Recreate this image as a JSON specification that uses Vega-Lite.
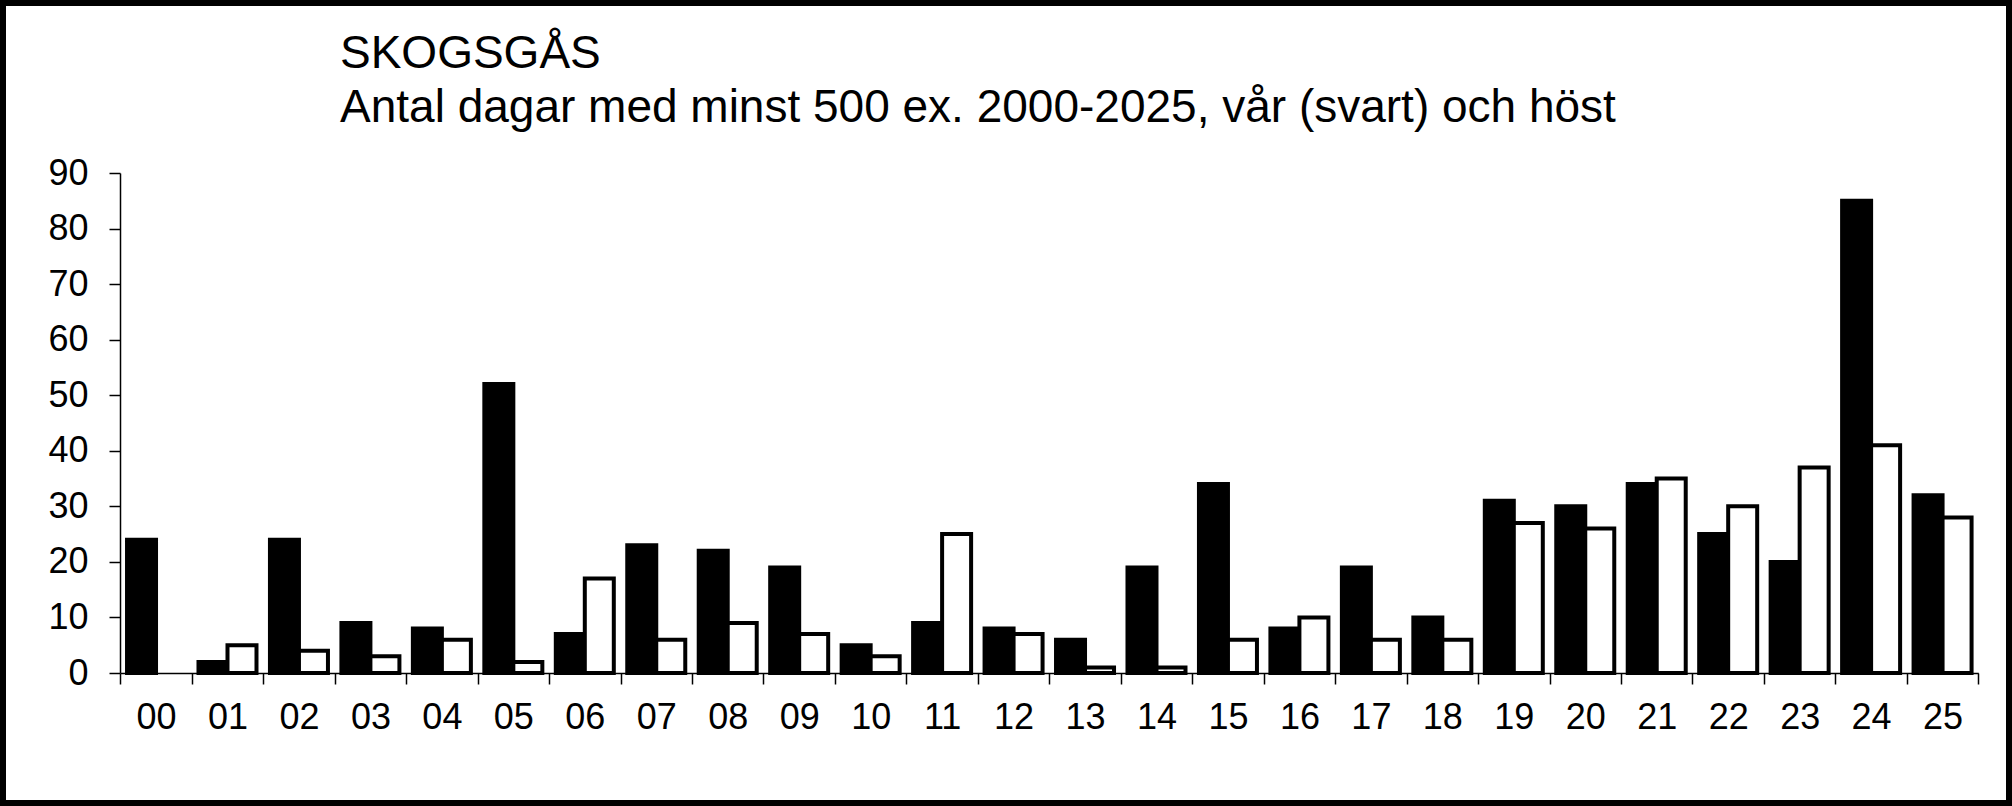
{
  "$schema": "https://vega.github.io/schema/vega-lite/v6.json",
  "width": 2012,
  "height": 806,
  "autosize": {"type": "none"},
  "padding": 0,
  "background": "white",
  "config": {
    "view": {"stroke": "black", "strokeWidth": 12, "fill": "white"},
    "font": "Liberation Sans"
  },
  "title": {
    "text": ["SKOGSGÅS", "Antal dagar med minst 500 ex. 2000-2025, vår (svart) och höst"],
    "anchor": "start",
    "frame": "group",
    "baseline": "top",
    "dx": 340,
    "offset": -132,
    "font": "Liberation Sans",
    "fontSize": 46,
    "fontWeight": "normal",
    "lineHeight": 54,
    "color": "black"
  },
  "data": {
    "values": [
      {"år": "00", "säsong": "vår", "dagar": 24}, {"år": "00", "säsong": "höst", "dagar": 0},
      {"år": "01", "säsong": "vår", "dagar": 2}, {"år": "01", "säsong": "höst", "dagar": 5},
      {"år": "02", "säsong": "vår", "dagar": 24}, {"år": "02", "säsong": "höst", "dagar": 4},
      {"år": "03", "säsong": "vår", "dagar": 9}, {"år": "03", "säsong": "höst", "dagar": 3},
      {"år": "04", "säsong": "vår", "dagar": 8}, {"år": "04", "säsong": "höst", "dagar": 6},
      {"år": "05", "säsong": "vår", "dagar": 52}, {"år": "05", "säsong": "höst", "dagar": 2},
      {"år": "06", "säsong": "vår", "dagar": 7}, {"år": "06", "säsong": "höst", "dagar": 17},
      {"år": "07", "säsong": "vår", "dagar": 23}, {"år": "07", "säsong": "höst", "dagar": 6},
      {"år": "08", "säsong": "vår", "dagar": 22}, {"år": "08", "säsong": "höst", "dagar": 9},
      {"år": "09", "säsong": "vår", "dagar": 19}, {"år": "09", "säsong": "höst", "dagar": 7},
      {"år": "10", "säsong": "vår", "dagar": 5}, {"år": "10", "säsong": "höst", "dagar": 3},
      {"år": "11", "säsong": "vår", "dagar": 9}, {"år": "11", "säsong": "höst", "dagar": 25},
      {"år": "12", "säsong": "vår", "dagar": 8}, {"år": "12", "säsong": "höst", "dagar": 7},
      {"år": "13", "säsong": "vår", "dagar": 6}, {"år": "13", "säsong": "höst", "dagar": 1},
      {"år": "14", "säsong": "vår", "dagar": 19}, {"år": "14", "säsong": "höst", "dagar": 1},
      {"år": "15", "säsong": "vår", "dagar": 34}, {"år": "15", "säsong": "höst", "dagar": 6},
      {"år": "16", "säsong": "vår", "dagar": 8}, {"år": "16", "säsong": "höst", "dagar": 10},
      {"år": "17", "säsong": "vår", "dagar": 19}, {"år": "17", "säsong": "höst", "dagar": 6},
      {"år": "18", "säsong": "vår", "dagar": 10}, {"år": "18", "säsong": "höst", "dagar": 6},
      {"år": "19", "säsong": "vår", "dagar": 31}, {"år": "19", "säsong": "höst", "dagar": 27},
      {"år": "20", "säsong": "vår", "dagar": 30}, {"år": "20", "säsong": "höst", "dagar": 26},
      {"år": "21", "säsong": "vår", "dagar": 34}, {"år": "21", "säsong": "höst", "dagar": 35},
      {"år": "22", "säsong": "vår", "dagar": 25}, {"år": "22", "säsong": "höst", "dagar": 30},
      {"år": "23", "säsong": "vår", "dagar": 20}, {"år": "23", "säsong": "höst", "dagar": 37},
      {"år": "24", "säsong": "vår", "dagar": 85}, {"år": "24", "säsong": "höst", "dagar": 41},
      {"år": "25", "säsong": "vår", "dagar": 32}, {"år": "25", "säsong": "höst", "dagar": 28}
    ]
  },
  "mark": {"type": "bar", "strokeWidth": 4, "strokeJoin": "miter"},
  "encoding": {
    "x": {
      "field": "år",
      "type": "ordinal",
      "sort": null,
      "scale": {"range": [120.3, 1978.3], "paddingInner": 0, "paddingOuter": 0},
      "axis": {
        "orient": "bottom",
        "offset": -133,
        "title": null,
        "tickBand": "extent",
        "labelAngle": 0,
        "tickSize": 11,
        "tickWidth": 1.5,
        "tickColor": "black",
        "domainColor": "black",
        "domainWidth": 1.5,
        "labelPadding": 16,
        "labelFontSize": 36,
        "labelFont": "Liberation Sans",
        "labelColor": "black",
        "grid": false
      }
    },
    "xOffset": {
      "field": "säsong",
      "type": "nominal",
      "sort": ["vår", "höst"],
      "scale": {"paddingOuter": 0.232, "paddingInner": 0}
    },
    "y": {
      "field": "dagar",
      "type": "quantitative",
      "scale": {"domain": [0, 90], "range": [673, 173], "nice": false},
      "axis": {
        "offset": -120,
        "title": null,
        "values": [0, 10, 20, 30, 40, 50, 60, 70, 80, 90],
        "tickSize": 11,
        "tickWidth": 1.5,
        "tickColor": "black",
        "domainColor": "black",
        "domainWidth": 1.5,
        "labelPadding": 21,
        "labelFontSize": 36,
        "labelFont": "Liberation Sans",
        "labelColor": "black",
        "grid": false
      }
    },
    "fill": {
      "field": "säsong",
      "type": "nominal",
      "scale": {"domain": ["vår", "höst"], "range": ["black", "white"]},
      "legend": null
    },
    "stroke": {
      "condition": {"test": "datum['dagar'] === 0", "value": "transparent"},
      "value": "black"
    }
  }
}
